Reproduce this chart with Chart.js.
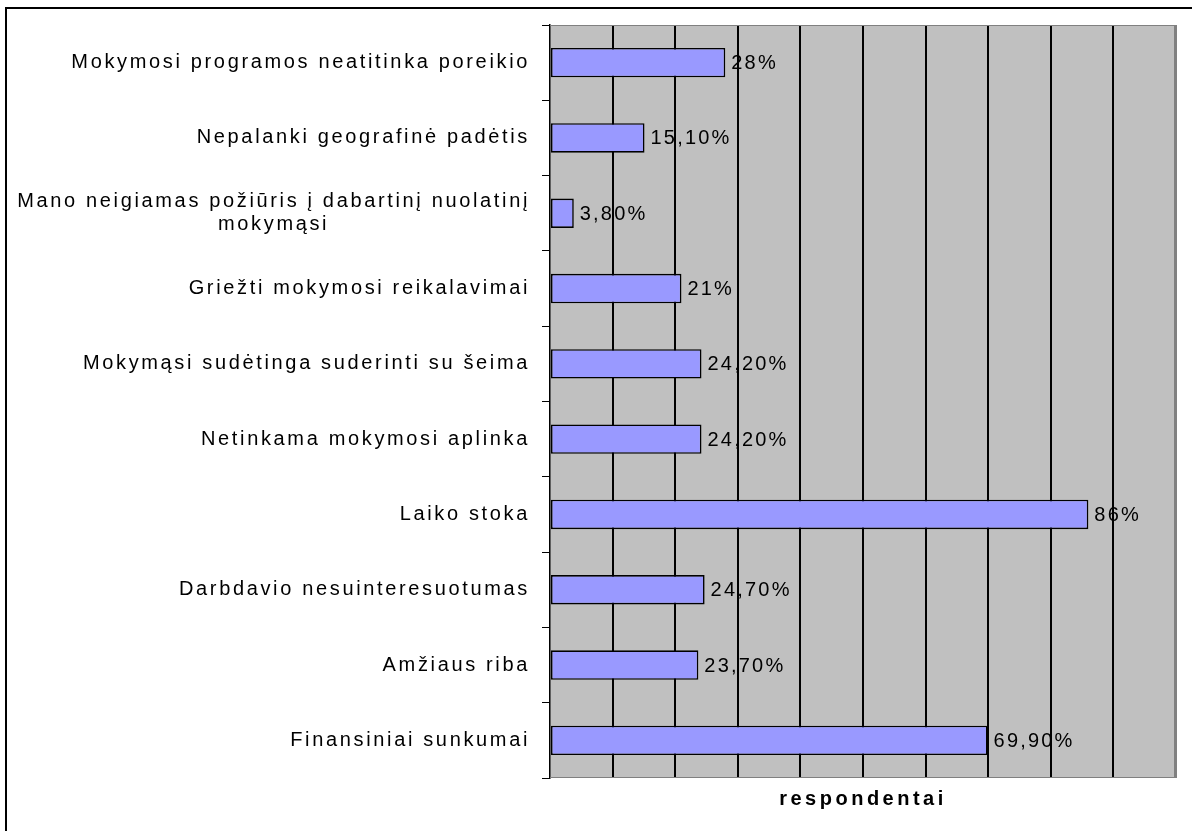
<!DOCTYPE html>
<html>
<head>
<meta charset="utf-8">
<script src="https://cdn.jsdelivr.net/npm/chart.js@4.4.1/dist/chart.umd.min.js"></script>
<style>
  html, body { margin: 0; padding: 0; background: #fff; overflow: hidden; }
  #frame { position: absolute; left: 5px; top: 7px; width: 1300px; height: 1000px; border: 2px solid #000; }
  #wrap { position: absolute; left: 0; top: 0; width: 1192px; height: 831px; }
</style>
</head>
<body>
<div id="frame"></div>
<div id="wrap"><canvas id="chart" width="1192" height="831"></canvas></div>
<script>
const categories = [
  "Mokymosi programos neatitinka poreikio",
  "Nepalanki geografinė padėtis",
  ["Mano neigiamas požiūris į dabartinį nuolatinį", "mokymąsi"],
  "Griežti mokymosi reikalavimai",
  "Mokymąsi sudėtinga suderinti su šeima",
  "Netinkama mokymosi aplinka",
  "Laiko stoka",
  "Darbdavio nesuinteresuotumas",
  "Amžiaus riba",
  "Finansiniai sunkumai"
];
const shares = [28, 15.1, 3.8, 21, 24.2, 24.2, 86, 24.7, 23.7, 69.9];
const shareLabels = ["28%", "15,10%", "3,80%", "21%", "24,20%", "24,20%", "86%", "24,70%", "23,70%", "69,90%"];
const axisTitle = "respondentai";

const FONT = '"Liberation Sans", Arial, sans-serif';

// gray plot area + frame, and the text next to bars / axis
const plotDecor = {
  id: "plotDecor",
  beforeDraw(chart) {
    const { ctx, chartArea: a } = chart;
    ctx.save();
    ctx.fillStyle = "#c0c0c0";
    ctx.fillRect(a.left, a.top, a.right - a.left, a.bottom - a.top);
    ctx.restore();
    ctx.letterSpacing = "3.5px"; // used by the axis title
  },
  beforeDatasetsDraw(chart) {
    const { ctx, chartArea: a } = chart;
    ctx.save();
    ctx.strokeStyle = "#808080";
    ctx.lineWidth = 1;
    ctx.beginPath();
    ctx.moveTo(a.left, a.top + 0.5);
    ctx.lineTo(a.right, a.top + 0.5);
    ctx.moveTo(a.left, a.bottom - 0.5);
    ctx.lineTo(a.right, a.bottom - 0.5);
    ctx.stroke();
    ctx.lineWidth = 3;
    ctx.beginPath();
    ctx.moveTo(a.right - 0.5, a.top);
    ctx.lineTo(a.right - 0.5, a.bottom);
    ctx.stroke();
    ctx.restore();
  },
  afterDatasetsDraw(chart) {
    const { ctx, chartArea: a } = chart;
    const yScale = chart.scales.y;
    const meta = chart.getDatasetMeta(0);
    ctx.save();
    ctx.letterSpacing = "2.65px";
    ctx.font = "20px " + FONT;
    ctx.fillStyle = "#000";
    ctx.textBaseline = "middle";
    ctx.textAlign = "left";

    // category labels
    const right = a.left - 20;
    const lh = 23;
    categories.forEach((cat, i) => {
      const cy = yScale.getPixelForValue(i);
      const lines = Array.isArray(cat) ? cat : [cat];
      const widths = lines.map((l) => ctx.measureText(l).width);
      const w = Math.max(...widths);
      lines.forEach((l, j) => {
        const x = right - w + (w - widths[j]) / 2;
        ctx.fillText(l, x, cy + (j - (lines.length - 1) / 2) * lh);
      });
    });

    // value labels
    ctx.letterSpacing = "2.2px";
    meta.data.forEach((bar, i) => {
      ctx.fillText(shareLabels[i], bar.x + 6, bar.y + 1);
    });
    ctx.restore();
  }
};

new Chart(document.getElementById("chart"), {
  type: "bar",
  data: {
    labels: categories,
    datasets: [{
      data: shares,
      backgroundColor: "#9999ff",
      borderColor: "#000",
      borderWidth: 1.6,
      borderSkipped: false,
      categoryPercentage: 1,
      barPercentage: 0.39
    }]
  },
  options: {
    indexAxis: "y",
    responsive: false,
    animation: false,
    layout: { padding: { top: 25, right: 16, left: 0, bottom: 0 } },
    plugins: {
      legend: { display: false },
      tooltip: { enabled: false }
    },
    scales: {
      y: {
        afterFit(s) { s.width = 550; },
        ticks: { display: false },
        grid: { drawOnChartArea: false, offset: true, tickLength: 8, color: "#000", lineWidth: 1 },
        border: { color: "#000", width: 1.5 }
      },
      x: {
        min: 0,
        max: 100,
        afterFit(s) { s.height = 53; },
        ticks: { display: false, stepSize: 10 },
        grid: {
          drawTicks: false,
          lineWidth: 2,
          color: (c) => (c.tick && (c.tick.value === 0 || c.tick.value === 100)) ? "rgba(0,0,0,0)" : "#000"
        },
        border: { display: false },
        title: {
          display: true,
          text: axisTitle,
          color: "#000",
          font: { family: FONT, size: 20, weight: "bold" },
          padding: { top: 0, bottom: 20 }
        }
      }
    }
  },
  plugins: [plotDecor]
});
</script>
</body>
</html>
